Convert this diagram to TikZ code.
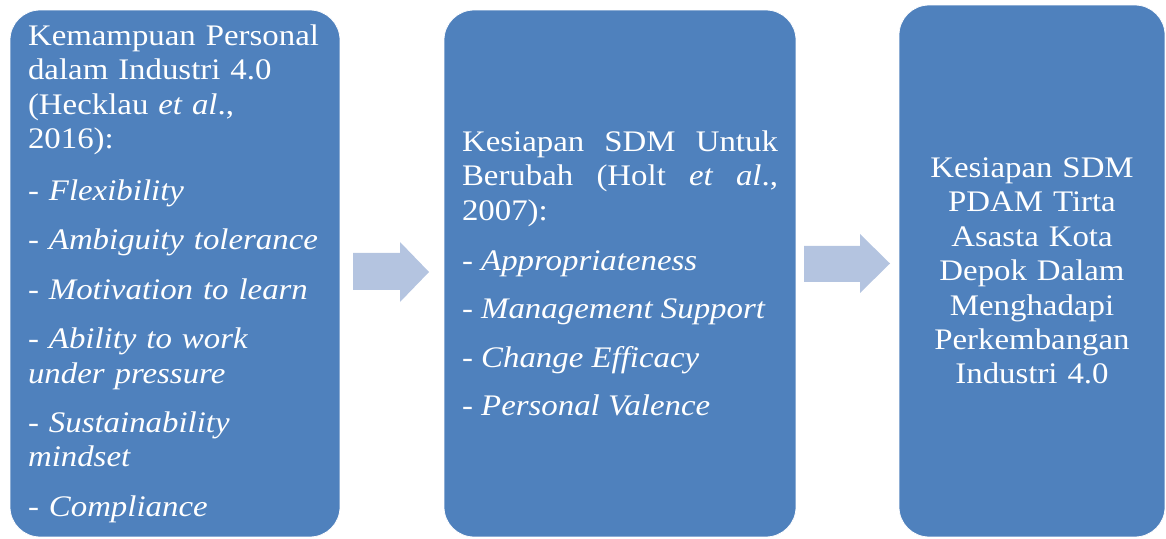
\documentclass[tikz,border=0pt]{standalone}
\usepackage{fontspec}
\setmainfont[FakeStretch=1.1]{Liberation Serif}
\definecolor{birutua}{RGB}{79,129,189}
\definecolor{birumuda}{RGB}{180,196,224}
\begin{document}
\begin{tikzpicture}[x=0.02cm,y=0.02cm,
    blok/.style={fill=birutua, draw=white, rounded corners=0.6cm, text=white,
        inner sep=0pt, font=\fontsize{17}{19.6}\selectfont},
    panah/.style={fill=birumuda}]
    \useasboundingbox (0,0) rectangle (1166,538);
    \node[blok, minimum width=6.6cm, minimum height=10.54cm, text width=5.88cm, align=left] (personal) at (175,264.5)
        {Kemampuan Personal\\ dalam Industri 4.0\\ (Hecklau \textit{et al}.,\\ 2016):\\[10pt]
         - \textit{Flexibility}\\[8.5pt] - \textit{Ambiguity tolerance}\\[8.5pt] - \textit{Motivation to learn}\\[8.5pt]
         - \textit{Ability to work}\\ \textit{under pressure}\\[8.5pt] - \textit{Sustainability}\\ \textit{mindset}\\[8.5pt]
         - \textit{Compliance}};
    \node[blok, minimum width=7.04cm, minimum height=10.54cm, text width=6.32cm, align=justify] (berubah) at (620,264.5)
        {Kesiapan SDM Untuk\linebreak Berubah (Holt \textit{et al}.,\linebreak 2007):\\[9pt]
         - \textit{Appropriateness}\\[8pt] - \textit{Management Support}\\[8pt] - \textit{Change Efficacy}\\[8pt]
         - \textit{Personal Valence}};
    \node[blok, minimum width=5.32cm, minimum height=10.64cm, text width=4.8cm, align=center] (pdam) at (1032,267)
        {Kesiapan SDM\\ PDAM Tirta\\ Asasta Kota\\ Depok Dalam\\ Menghadapi\\ Perkembangan\\ Industri 4.0};
    \fill[panah] (353,248) -- (400,248) -- (400,236) -- (429,266) -- (400,296) -- (400,285) -- (353,285) -- cycle;
    \fill[panah] (804,256) -- (860,256) -- (860,245) -- (890,274.5) -- (860,304) -- (860,292) -- (804,292) -- cycle;
\end{tikzpicture}
\end{document}
